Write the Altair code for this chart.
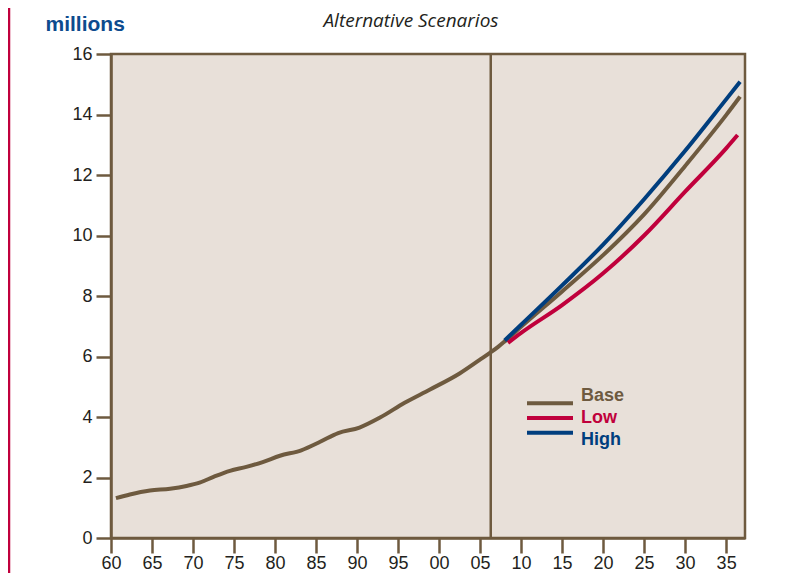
import altair as alt
import pandas as pd

# ---- data ----
hist_years = [1960.6, 1962.3, 1964.75, 1967.2, 1969.2, 1970.8, 1972.5, 1974.5, 1976.5,
              1978.5, 1980.6, 1983.2, 1985.5, 1987.7, 1990.3, 1992.8, 1995.8, 1998.9,
              2002.5, 2004.9, 2006.2, 2007.2]
hist_values = [1.32, 1.44, 1.57, 1.63, 1.72, 1.83, 2.02, 2.22, 2.35,
               2.51, 2.72, 2.90, 3.18, 3.47, 3.65, 3.98, 4.47, 4.91,
               5.44, 5.88, 6.12, 6.32]

proj_years = [2008, 2010, 2015, 2020, 2025, 2030, 2035, 2036.7]
base_proj = [6.50, 6.98, 8.15, 9.35, 10.7, 12.3, 13.98, 14.59]
high_proj = [6.53, 7.05, 8.35, 9.7, 11.2, 12.8, 14.5, 15.08]
low_years = [2008.4, 2010, 2015, 2020, 2025, 2030, 2035, 2036.4]
low_proj = [6.45, 6.78, 7.7, 8.75, 10.0, 11.45, 12.88, 13.32]

series_names = ["Base", "Low", "High"]
series_colors = ["#6e5a3f", "#c0003c", "#003e7e"]

x_ticks = [1960, 1965, 1970, 1975, 1980, 1985, 1990, 1995, 2000, 2005,
           2010, 2015, 2020, 2025, 2030, 2035]
y_ticks = [0, 2, 4, 6, 8, 10, 12, 14, 16]
divider_year = [2006.3]
subtitle = ["Alternative Scenarios"]

# ---- build table ----
rows = []
for yr, v in zip(hist_years + proj_years, hist_values + base_proj):
    rows.append({"year": yr, "value": v, "series": "Base"})
for yr, v in zip(low_years, low_proj):
    rows.append({"year": yr, "value": v, "series": "Low"})
for yr, v in zip(proj_years, high_proj):
    rows.append({"year": yr, "value": v, "series": "High"})
df = pd.DataFrame(rows)

FONT = "Liberation Sans Narrow, Arial Narrow, Liberation Sans, sans-serif"
BROWN = "#6e5a3f"

color_scale = alt.Scale(domain=series_names, range=series_colors)

lines = alt.Chart(df).mark_line(strokeWidth=4, interpolate="monotone").encode(
    x=alt.X("year:Q",
            scale=alt.Scale(domain=[1960, 2037.3], nice=False, zero=False),
            axis=alt.Axis(values=x_ticks, title=None,
                          labelExpr="slice('0' + (datum.value % 100), -2)",
                          labelPadding=1, labelFlush=False)),
    y=alt.Y("value:Q",
            scale=alt.Scale(domain=[0, 16], nice=False),
            axis=alt.Axis(values=y_ticks, title="millions", titleAngle=0,
                          titleX=-66, titleY=-24, titleAlign="left",
                          titleBaseline="alphabetic", titleColor="#0d4b8e",
                          titleFontSize=21, titleFontWeight="bold", titleFont=FONT,
                          labelPadding=4)),
    color=alt.Color("series:N", scale=color_scale, legend=None),
    detail="series:N",
)

divider = alt.Chart(pd.DataFrame({"x": divider_year})).mark_rule(
    color=BROWN, strokeWidth=2.5).encode(x="x:Q")

leg_df = pd.DataFrame({"series": series_names})
leg_y = alt.Y("series:N", scale=alt.Scale(domain=series_names, range=[342, 386], padding=0),
              axis=None)
leg_rule = alt.Chart(leg_df).mark_rule(strokeWidth=4).encode(
    x=alt.value(416), x2=alt.value(462), y=leg_y,
    color=alt.Color("series:N", scale=color_scale, legend=None))
leg_text = alt.Chart(leg_df).mark_text(align="left", baseline="middle", dx=0,
                                       font=FONT, fontSize=18, fontWeight="bold").encode(
    x=alt.value(470), y=leg_y, text="series:N",
    color=alt.Color("series:N", scale=color_scale, legend=None))

sub_text = alt.Chart(pd.DataFrame({"t": subtitle})).mark_text(
    align="center", baseline="alphabetic", font="Open Sans", fontStyle="italic",
    fontSize=19, color="#231f20").encode(
    x=alt.value(300), y=alt.value(-27), text="t:N")

page_line = alt.Chart(pd.DataFrame({"a": [0]})).mark_rule(
    color="#c0003c", strokeWidth=2.5).encode(
    x=alt.value(-102), y=alt.value(-46), y2=alt.value(530))

chart = alt.layer(lines, divider, leg_rule, leg_text, sub_text, page_line).resolve_scale(
    y="independent"
).properties(
    width=634, height=484,
    autosize=alt.AutoSizeParams(type="none"),
    padding={"left": 103, "top": 46, "right": 40, "bottom": 35},
).configure_view(
    fill="#e8e0d9", stroke=BROWN, strokeWidth=2.5
).configure_axis(
    domainColor=BROWN, domainWidth=2.5, tickColor=BROWN, tickWidth=2.5, tickSize=15,
    labelFont=FONT, labelFontSize=18, labelColor="#231f20", grid=False
)

chart.save("out.html", embed_options={"renderer": "svg", "actions": False})
